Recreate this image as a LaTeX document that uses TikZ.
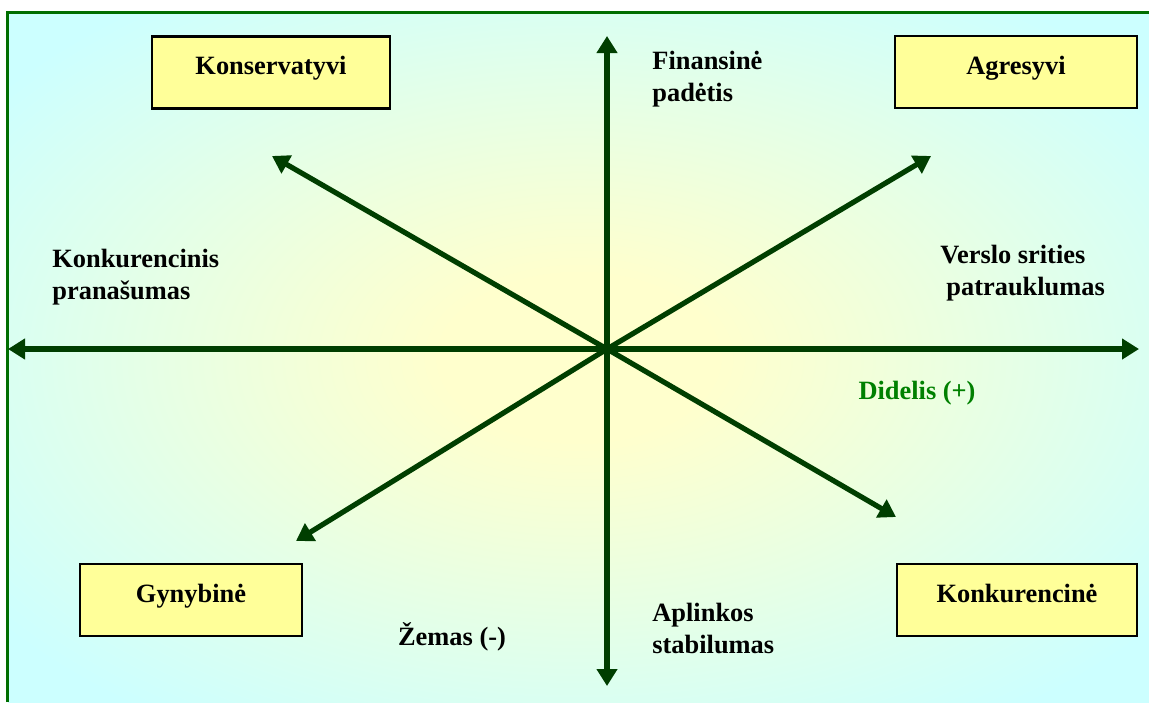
\documentclass[tikz,border=0pt]{standalone}
\usepackage{fontspec}
\setmainfont{Liberation Serif}
\usetikzlibrary{arrows.meta}
\definecolor{axisgreen}{RGB}{0,62,0}
\definecolor{framegreen}{RGB}{0,110,0}
\definecolor{boxyellow}{RGB}{255,255,153}
\definecolor{bgyellow}{RGB}{255,255,205}
\definecolor{bgcyan}{RGB}{204,255,255}
\definecolor{labgreen}{RGB}{0,128,0}
\pgfdeclareradialshading{bgshade}{\pgfpoint{0bp}{0bp}}{color(0bp)=(bgyellow); color(6bp)=(bgyellow); color(32bp)=(bgcyan); color(50bp)=(bgcyan)}
\tikzset{
  stratbox/.style={draw=black, line width=1.3pt, fill=boxyellow, inner sep=0pt,
    text height=19pt, text depth=17pt, align=center,
    font=\fontsize{13.2}{16}\selectfont\bfseries},
  lab/.style={inner sep=0pt, align=left, font=\fontsize{13.2}{16}\selectfont\bfseries},
  axis/.style={draw=axisgreen, line width=2.6pt, -{Triangle[length=8.5pt,width=10pt]}},
}
\begin{document}
\begin{tikzpicture}[x=0.5pt,y=-0.5pt]
\useasboundingbox (0,0) rectangle (1149,702);
\fill[white] (0,0) rectangle (1149,702);
\shade[shading=bgshade] (8,13) rectangle (1149,702);
\draw[framegreen, line width=1.2pt] (7.5,702) -- (7.5,12.5) -- (1149,12.5);
% centre and tips
\coordinate (O) at (607,349);
\coordinate (N) at (607,36);
\coordinate (S) at (607,686);
\coordinate (W) at (8,349);
\coordinate (E) at (1139,349);
\coordinate (NW) at (272,156);
\coordinate (SE) at (896,517);
\coordinate (NE) at (931,156);
\coordinate (SW) at (296,541);
\draw[axis] (O) -- (N);
\draw[axis] (O) -- (S);
\draw[axis] (O) -- (W);
\draw[axis] (O) -- (E);
\draw[axis] (O) -- (NW);
\draw[axis] (O) -- (SE);
\draw[axis] (O) -- (NE);
\draw[axis] (O) -- (SW);
% boxes
\node[stratbox, minimum width=119pt] (kons) at (271,72.5) {Konservatyvi};
\node[stratbox, minimum width=121pt] (agr) at (1016,72) {Agresyvi};
\node[stratbox, minimum width=111pt] (gyn) at (191,600) {Gynybinė};
\node[stratbox, minimum width=120pt] (konk) at (1017,600) {Konkurencinė};
% labels
\node[lab, anchor=north west] (fin) at (652,51) {Finansinė\\padėtis};
\node[lab, anchor=north west] (konkp) at (52,249) {Konkurencinis\\pranašumas};
\node[lab, anchor=north west] (versl) at (940,245) {Verslo srities\\\hspace*{3pt}patrauklumas};
\node[lab, anchor=north west] (apl) at (652,603) {Aplinkos\\stabilumas};
\node[lab, text=labgreen] (did) at (917,393) {Didelis (+)};
\node[lab] (zem) at (452,637) {Žemas (-)};
\end{tikzpicture}
\end{document}
